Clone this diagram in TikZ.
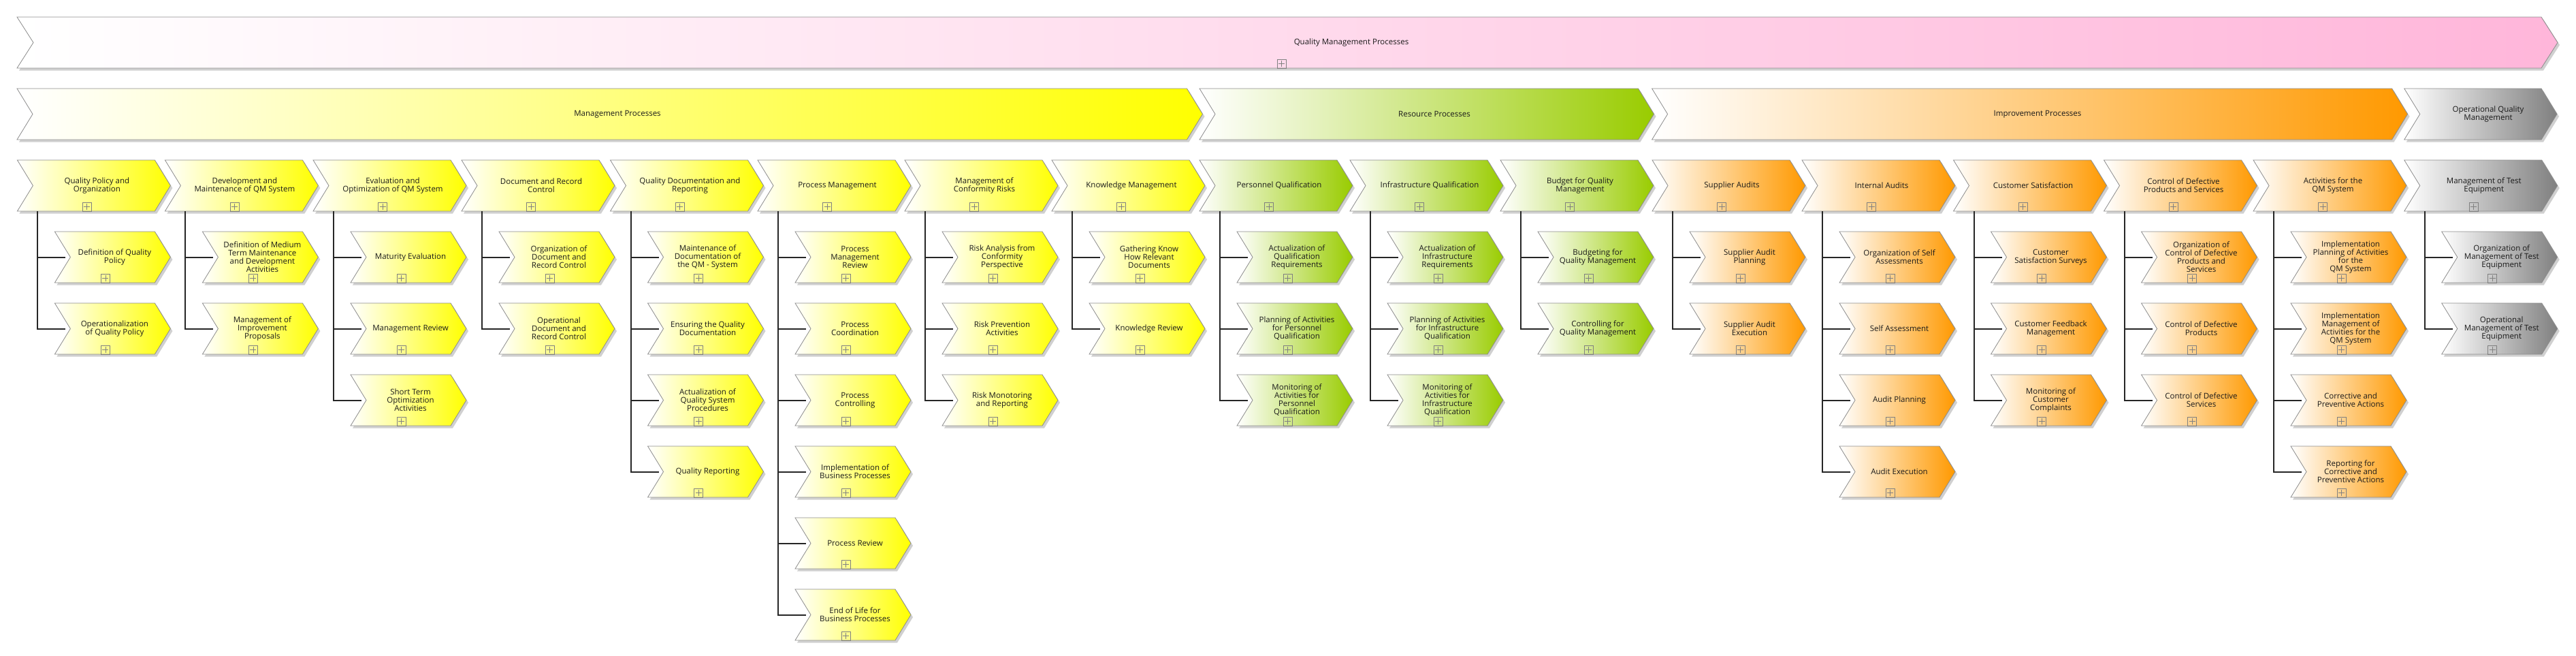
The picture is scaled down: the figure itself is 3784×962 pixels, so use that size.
\documentclass[tikz,border=0pt]{standalone}
\usepackage{fontspec}
\setmainfont{Open Sans}
\usetikzlibrary{shadows}
\definecolor{qmyel}{HTML}{FFFF00}
\definecolor{qmgrn}{HTML}{99CC00}
\definecolor{qmorg}{HTML}{FF9900}
\definecolor{qmgry}{HTML}{808080}
\definecolor{qmpnk}{HTML}{FFB6DA}
\tikzset{
  chev/.style={draw=black!45, line width=0.8pt, left color=white,
    drop shadow={shadow xshift=3pt, shadow yshift=-3.5pt, opacity=0.3, fill=black!60}},
  lbl/.style={inner sep=0pt, align=center, text=black!90, font=\fontsize{11.5}{12}\selectfont},
  plusbox/.style={draw=black!50, line width=0.7pt, minimum size=13pt, inner sep=0pt,
    path picture={\draw[black!50, line width=0.6pt]
      ([yshift=2pt]path picture bounding box.south) -- ([yshift=-2pt]path picture bounding box.north)
      ([xshift=2pt]path picture bounding box.west) -- ([xshift=-2pt]path picture bounding box.east);}},
  conn/.style={draw=black!85, line width=2pt},
}
% generic bar: name, x0, ytop, W, colour, text x, text
\newcommand\qmbar[7]{%
  \path[chev, right color=#5] (#2,-#3) -- ++(#4,0) -- ++(23,-37.5) -- ++(-23,-37.5) -- ++(-#4,0) -- ++(23,37.5) -- cycle;
  \node[lbl] (#1) at (#6,-#3-37.5) {#7};
}
% level-3 head: name, x0, colour, text
\newcommand\qmhead[4]{%
  \path[chev, right color=#3] (#2,-235) -- ++(202,0) -- ++(23,-37.5) -- ++(-23,-37.5) -- ++(-202,0) -- ++(23,37.5) -- cycle;
  \node[lbl] (#1) at (#2+117,-272.5) {#4};
  \node[plusbox] (#1-plus) at (#2+102,-303.5) {};
  \coordinate (#1-bus) at (#2+30,-310);
  \def\qmx{#2}\def\qmcol{#3}\def\qmpar{#1}%
}
% child: name, row index, text
\newcommand\qmkid[3]{%
  \pgfmathsetmacro\qmcx{\qmx+55}%
  \pgfmathsetmacro\qmcy{340+105*#2}%
  \path[chev, right color=\qmcol] (\qmcx,-\qmcy) -- ++(147,0) -- ++(23,-37.5) -- ++(-23,-37.5) -- ++(-147,0) -- ++(23,37.5) -- cycle;
  \node[lbl] (#1) at (\qmcx+88,-\qmcy-37.5) {#3};
  \node[plusbox] (#1-plus) at (\qmcx+74.5,-\qmcy-68.5) {};
  \coordinate (#1-in) at (\qmcx+16,-\qmcy-37.5);
  \draw[conn] (\qmpar-bus) |- (#1-in);
}
\begin{document}
\begin{tikzpicture}[x=1pt,y=1pt]
\fill[white] (0,0) rectangle (3784,-962);
\useasboundingbox (0,0) rectangle (3784,-962);

% top bar
\path[chev, right color=qmpnk] (25,-25) -- (3733,-25) -- (3757,-62.5) -- (3733,-100) -- (25,-100) -- (49,-62.5) -- cycle;
\node[lbl] (qmp) at (1985,-62.5) {Quality Management Processes};
\node[plusbox] (qmp-plus) at (1882.5,-93.5) {};

% level 2
\qmbar{mgmt}{25}{130}{1718.5}{qmyel}{907}{Management Processes}
\qmbar{res}{1762}{130}{644.5}{qmgrn}{2107}{Resource Processes}
\qmbar{imp}{2426.6}{130}{1087}{qmorg}{2993}{Improvement Processes}
\qmbar{oqm}{3531.7}{130}{201.3}{qmgry}{3655}{Operational Quality\\Management}

% columns
\qmhead{h0}{25.4}{qmyel}{Quality Policy and\\Organization}
\qmkid{k0a}{0}{Definition of Quality\\Policy}
\qmkid{k0b}{1}{Operationalization\\of Quality Policy}

\qmhead{h1}{242.4}{qmyel}{Development and\\Maintenance of QM System}
\qmkid{k1a}{0}{Definition of Medium\\Term Maintenance\\and Development\\Activities}
\qmkid{k1b}{1}{Management of\\Improvement\\Proposals}

\qmhead{h2}{460}{qmyel}{Evaluation and\\Optimization of QM System}
\qmkid{k2a}{0}{Maturity Evaluation}
\qmkid{k2b}{1}{Management Review}
\qmkid{k2c}{2}{Short Term\\Optimization\\Activities}

\qmhead{h3}{678}{qmyel}{Document and Record\\Control}
\qmkid{k3a}{0}{Organization of\\Document and\\Record Control}
\qmkid{k3b}{1}{Operational\\Document and\\Record Control}

\qmhead{h4}{896.5}{qmyel}{Quality Documentation and\\Reporting}
\qmkid{k4a}{0}{Maintenance of\\Documentation of\\the QM - System}
\qmkid{k4b}{1}{Ensuring the Quality\\Documentation}
\qmkid{k4c}{2}{Actualization of\\Quality System\\Procedures}
\qmkid{k4d}{3}{Quality Reporting}

\qmhead{h5}{1113}{qmyel}{Process Management}
\qmkid{k5a}{0}{Process\\Management\\Review}
\qmkid{k5b}{1}{Process\\Coordination}
\qmkid{k5c}{2}{Process\\Controlling}
\qmkid{k5d}{3}{Implementation of\\Business Processes}
\qmkid{k5e}{4}{Process Review}
\qmkid{k5f}{5}{End of Life for\\Business Processes}

\qmhead{h6}{1329}{qmyel}{Management of\\Conformity Risks}
\qmkid{k6a}{0}{Risk Analysis from\\Conformity\\Perspective}
\qmkid{k6b}{1}{Risk Prevention\\Activities}
\qmkid{k6c}{2}{Risk Monotoring\\and Reporting}

\qmhead{h7}{1545}{qmyel}{Knowledge Management}
\qmkid{k7a}{0}{Gathering Know\\How Relevant\\Documents}
\qmkid{k7b}{1}{Knowledge Review}

\qmhead{h8}{1762}{qmgrn}{Personnel Qualification}
\qmkid{k8a}{0}{Actualization of\\Qualification\\Requirements}
\qmkid{k8b}{1}{Planning of Activities\\for Personnel\\Qualification}
\qmkid{k8c}{2}{Monitoring of\\Activities for\\Personnel\\Qualification}

\qmhead{h9}{1983}{qmgrn}{Infrastructure Qualification}
\qmkid{k9a}{0}{Actualization of\\Infrastructure\\Requirements}
\qmkid{k9b}{1}{Planning of Activities\\for Infrastructure\\Qualification}
\qmkid{k9c}{2}{Monitoring of\\Activities for\\Infrastructure\\Qualification}

\qmhead{h10}{2204}{qmgrn}{Budget for Quality\\Management}
\qmkid{k10a}{0}{Budgeting for\\Quality Management}
\qmkid{k10b}{1}{Controlling for\\Quality Management}

\qmhead{h11}{2427}{qmorg}{Supplier Audits}
\qmkid{k11a}{0}{Supplier Audit\\Planning}
\qmkid{k11b}{1}{Supplier Audit\\Execution}

\qmhead{h12}{2647}{qmorg}{Internal Audits}
\qmkid{k12a}{0}{Organization of Self\\Assessments}
\qmkid{k12b}{1}{Self Assessment}
\qmkid{k12c}{2}{Audit Planning}
\qmkid{k12d}{3}{Audit Execution}

\qmhead{h13}{2869.5}{qmorg}{Customer Satisfaction}
\qmkid{k13a}{0}{Customer\\Satisfaction Surveys}
\qmkid{k13b}{1}{Customer Feedback\\Management}
\qmkid{k13c}{2}{Monitoring of\\Customer\\Complaints}

\qmhead{h14}{3090.5}{qmorg}{Control of Defective\\Products and Services}
\qmkid{k14a}{0}{Organization of\\Control of Defective\\Products and\\Services}
\qmkid{k14b}{1}{Control of Defective\\Products}
\qmkid{k14c}{2}{Control of Defective\\Services}

\qmhead{h15}{3310}{qmorg}{Activities for the\\QM System}
\qmkid{k15a}{0}{Implementation\\Planning of Activities\\for the\\QM System}
\qmkid{k15b}{1}{Implementation\\Management of\\Activities for the\\QM System}
\qmkid{k15c}{2}{Corrective and\\Preventive Actions}
\qmkid{k15d}{3}{Reporting for\\Corrective and\\Preventive Actions}

\qmhead{h16}{3531.7}{qmgry}{Management of Test\\Equipment}
\qmkid{k16a}{0}{Organization of\\Management of Test\\Equipment}
\qmkid{k16b}{1}{Operational\\Management of Test\\Equipment}
\end{tikzpicture}
\end{document}
